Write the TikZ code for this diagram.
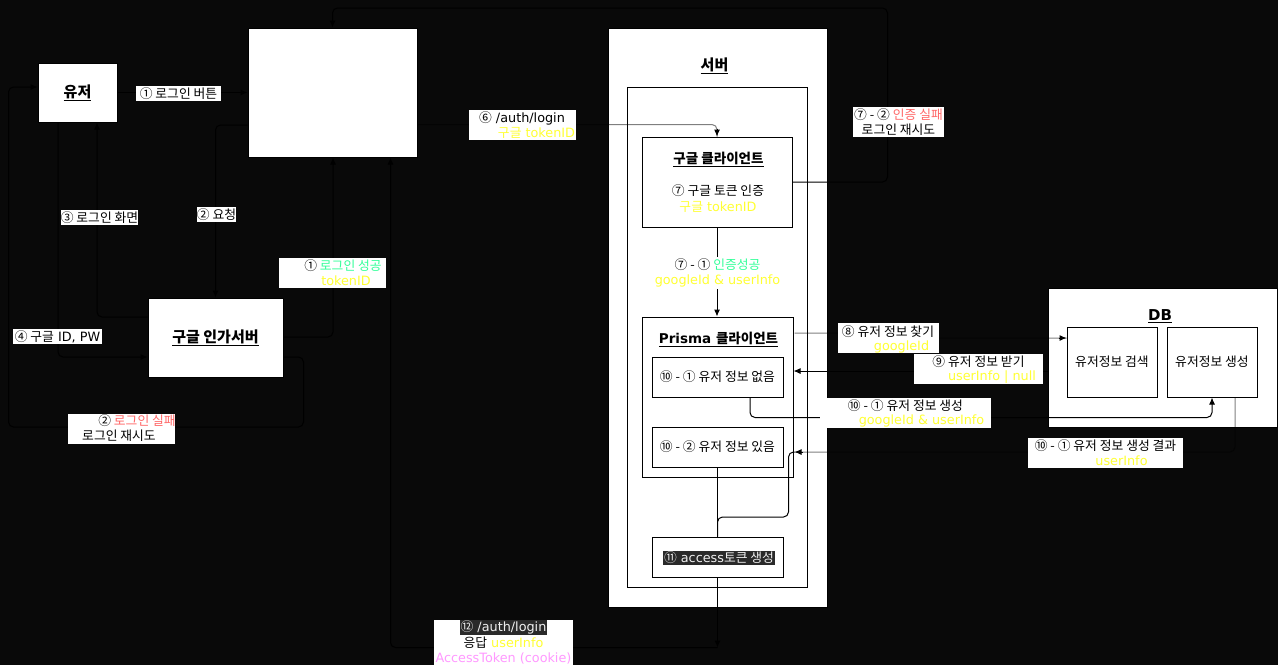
\documentclass[tikz,border=0pt]{standalone}
\usepackage{fontspec}
\setmainfont{DejaVu Sans}
\newfontfamily\kofont{Noto Sans CJK KR}
\newcommand\K[1]{{\kofont #1}}
\usetikzlibrary{arrows.meta,calc}
\definecolor{bg}{RGB}{9,9,9}
\definecolor{okgreen}{RGB}{51,255,153}
\definecolor{failred}{RGB}{255,102,102}
\definecolor{tokyellow}{RGB}{255,255,51}
\definecolor{cookiepink}{RGB}{255,153,255}
\definecolor{hlgray}{RGB}{42,42,42}
\definecolor{hltext}{RGB}{240,240,240}
\newcommand\fs{\fontsize{12.8}{14}\selectfont}
\newcommand\fst{\fontsize{15}{17}\selectfont\bfseries}
\newcommand\fsm{\fontsize{13.5}{15}\selectfont\bfseries}
\begin{document}
\begin{tikzpicture}[x=1pt,y=-1pt,
  box/.style={draw=black, line width=1pt, fill=white, inner sep=0, font=\fs},
  lbl/.style={fill=white, draw=none, inner sep=0, font=\fs},
  txt/.style={inner sep=0, font=\fs, text=black},
  conn/.style={draw=black, line width=1pt, rounded corners=5pt},
  arr/.style={conn, -{Latex[length=7pt,width=6pt]}},
  faint/.style={conn, draw opacity=0.5},
  hl/.style={fill=hlgray, text=hltext, inner sep=1pt, font=\fs}
]
\fill[bg] (0,0) rectangle (1278,665);
\useasboundingbox (0,0) rectangle (1278,665);

% ---------- boxes ----------
\node[box, minimum width=79, minimum height=59] (user) at (77.5,92.5) {{\kofont\fst\underline{유저}}};
\node[box, minimum width=169, minimum height=129] (big) at (332.5,92.5) {};
\node[box, minimum width=135, minimum height=79] (auth) at (215.5,337.5) {{\kofont\fst\underline{구글 인가서버}}};

\node[box, minimum width=219, minimum height=579] (server) at (717.5,317.5) {};
\node[txt] (stitle) at (714.5,66) {{\kofont\fst\underline{서버}}};
\node[box, fill=none, minimum width=180, minimum height=500] (inner) at (717,337) {};

\node[box, minimum width=150, minimum height=90] (client) at (717,182) {};
\node[txt] (ctitle) at (718.5,159) {{\kofont\fsm\underline{구글 클라이언트}}};
\node[txt] (ctext1) at (718,191) {\K{⑦ 구글 토큰 인증}};
\node[txt, text=tokyellow] (ctext2) at (718,207) {\K{구글} tokenID};

\node[box, minimum width=151, minimum height=160] (prisma) at (717.5,397) {};
\node[txt] (ptitle) at (718.5,339) {{\fsm\underline{Prisma {\kofont 클라이언트}}}};
\node[box, minimum width=131, minimum height=40] (none) at (717.5,377) {\K{⑩ - ① 유저 정보 없음}};
\node[box, minimum width=131, minimum height=40] (have) at (717.5,447) {\K{⑩ - ② 유저 정보 있음}};
\node[box, minimum width=131, minimum height=40] (access) at (717.5,557) {};
\node[hl] (atext) at (719,558) {\K{⑪} access\K{토큰 생성}};

\node[box, minimum width=229, minimum height=139] (db) at (1162.5,357.5) {};
\node[txt] (dbtitle) at (1160,316) {{\fst\underline{DB}}};
\node[box, minimum width=90, minimum height=70] (search) at (1112,362) {\K{유저정보 검색}};
\node[box, minimum width=90, minimum height=70] (create) at (1212,362) {\K{유저정보 생성}};

% ---------- connectors ----------
\draw[arr] (user.east) -- (big.west);
\draw[arr] ($(big.west)+(0,32.5)$) -| (auth.north);
\draw[arr] ($(auth.west)+(0,-20.5)$) -| ($(user.south)+(19.5,0)$);
\draw[arr] ($(user.south)+(-19.5,0)$) |- ($(auth.west)+(0,19.5)$);
\draw[arr] ($(auth.east)+(0,-0.5)$) -| ($(big.south)+(0.5,0)$);
\draw[arr] ($(auth.east)+(0,19.5)$) -- ++(20,0) -- ++(0,70) -- ++(-295,0) |- ($(user.west)+(0,-5.5)$);

\draw[faint] ($(big.east)+(0,32)$) -| (client.north);
\draw[arr] ($(client.north)+(0,-8)$) -- (client.north);
\draw[arr] (client.east) -- ++(95,0) -- ++(0,-174) -| (big.north);
\draw[arr] (client.south) -- (client.south |- prisma.north);

\draw[faint] ($(prisma.east)+(1,-64)$) -- ++(100,0) -- ++(0,5) -- ($(search.west)+(0,-24)$);
\draw[arr] ($(search.west)+(-8,-24)$) -- ($(search.west)+(0,-24)$);
\draw[arr] ($(db.west)+(0,13.5)$) -- ($(prisma.east)+(0,-26)$);
\draw[arr] ($(none.south)+(32.5,0)$) -- ++(0,20) -| (create.south);
\draw[faint] ($(create.south)+(23,0)$) |- ($(prisma.east)+(1,55)$);
\draw[arr] ($(prisma.east)+(9,55)$) -- ($(prisma.east)+(1,55)$);
\draw[conn] ($(prisma.east)+(1,55)$) -- ++(-6,0) -- ++(0,65) -| (access.north);
\draw[conn] (have.south) -- (access.north);

\coordinate (ret) at ($(access.south)+(0,70)$);
\draw[arr] (access.south) -- (ret);
\draw[arr] (ret) -| ($(big.south)+(58,0)$);

% ---------- labels ----------
\node[lbl, minimum width=85, minimum height=15] (l1) at (178.5,93.5) {\K{① 로그인 버튼}};
\node[lbl, minimum width=39, minimum height=15] (l2) at (216.5,214.5) {\K{② 요청}};
\node[lbl, minimum width=77, minimum height=15] (l3) at (99.5,217.5) {\K{③ 로그인 화면}};
\node[lbl, minimum width=89, minimum height=15] (l4) at (57.5,336.5) {\K{④ 구글} ID, PW};

\node[lbl, minimum width=107, minimum height=30] (l5) at (332.5,273) {};
\node[txt] (l5a) at (343,266) {\K{① \textcolor{okgreen}{로그인 성공}}};
\node[txt, text=tokyellow] (l5b) at (346,281) {tokenID};

\node[lbl, minimum width=107, minimum height=30] (l6) at (121.5,429) {};
\node[txt] (l6a) at (137,421) {\K{② \textcolor{failred}{로그인 실패}}};
\node[txt] (l6b) at (119,436) {\K{로그인 재시도}};

\node[lbl, minimum width=107, minimum height=30] (l7) at (522.5,125) {};
\node[txt] (l7a) at (522,118) {\K{⑥} /auth/login};
\node[txt, text=tokyellow] (l7b) at (536.5,133) {\K{구글} tokenID};

\node[lbl, minimum width=91, minimum height=30] (l8) at (898.5,122) {};
\node[txt] (l8a) at (898.5,114.5) {\K{⑦ - ② \textcolor{failred}{인증 실패}}};
\node[txt] (l8b) at (898.5,129.5) {\K{로그인 재시도}};

\node[lbl, minimum width=134, minimum height=32] (l9) at (717.5,273) {};
\node[txt] (l9a) at (717.5,264.5) {\K{⑦ - ① \textcolor{okgreen}{인증성공}}};
\node[txt, text=tokyellow] (l9b) at (717.5,281) {googleId \& userInfo};

\node[lbl, minimum width=101, minimum height=30] (l10) at (888.5,338) {};
\node[txt] (l10a) at (888,332) {\K{⑧ 유저 정보 찾기}};
\node[txt, text=tokyellow] (l10b) at (901.5,347) {googleId};

\node[lbl, minimum width=129, minimum height=30] (l11) at (978.5,369) {};
\node[txt] (l11a) at (978.5,361.5) {\K{⑨ 유저 정보 받기}};
\node[txt, text=tokyellow] (l11b) at (992,377) {userInfo | null};

\node[lbl, minimum width=171, minimum height=30] (l12) at (905.5,413) {};
\node[txt] (l12a) at (905.5,406) {\K{⑩ - ① 유저 정보 생성}};
\node[txt, text=tokyellow] (l12b) at (921.5,421) {googleId \& userInfo};

\node[lbl, minimum width=155, minimum height=30] (l13) at (1105.5,453) {};
\node[txt] (l13a) at (1105.5,445.5) {\K{⑩ - ① 유저 정보 생성 결과}};
\node[txt, text=tokyellow] (l13b) at (1121.5,461) {userInfo};

\node[lbl, minimum width=139, minimum height=45] (l14) at (503.5,642.5) {};
\node[hl] (l14a) at (503.5,627.5) {\K{⑫} /auth/login};
\node[txt] (l14b) at (503.5,643) {\K{응답} \textcolor{tokyellow}{userInfo}};
\node[txt, text=cookiepink] (l14c) at (503.5,658) {AccessToken (cookie)};
\end{tikzpicture}
\end{document}
